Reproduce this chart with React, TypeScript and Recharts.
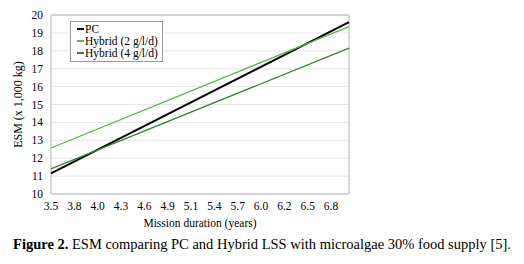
import { LineChart, Line, XAxis, YAxis, CartesianGrid, Legend, ReferenceArea } from 'recharts';

// mission duration in days (3.5 to 7.0 years)
const durationDays = [1278, 2555];
const pcMass = [11.15, 19.6];
const hybrid2Mass = [12.57, 19.35];
const hybrid4Mass = [11.4, 18.15];

// one tick every 100 days, shown in years
const xTicks = [1278, 1378, 1478, 1578, 1678, 1778, 1878, 1978, 2078, 2178, 2278, 2378, 2478];
const yTicks = [10, 11, 12, 13, 14, 15, 16, 17, 18, 19, 20];

const SERIES = [
  { key: 'pc', name: 'PC', color: '#000000', width: 2 },
  { key: 'hybrid2', name: 'Hybrid (2 g/l/d)', color: '#5bb450', width: 1.3 },
  { key: 'hybrid4', name: 'Hybrid (4 g/l/d)', color: '#3c7f36', width: 1.3 },
];

const data = durationDays.map((d, i) => ({
  days: d,
  pc: pcMass[i],
  hybrid2: hybrid2Mass[i],
  hybrid4: hybrid4Mass[i],
}));

const FONT = 'Liberation Serif, Times New Roman, Times, serif';

function LegendBox() {
  return (
    <div style={{ border: '1px solid #9a9a9a', background: '#fff', padding: '1px 4px 2px 6px', fontFamily: FONT, fontSize: 11.5, lineHeight: '12px', color: '#000' }}>
      {SERIES.map((s) => (
        <div key={s.key} style={{ display: 'flex', alignItems: 'center', whiteSpace: 'nowrap' }}>
          <span style={{ display: 'inline-block', width: 7, height: s.key === 'pc' ? 2 : 1.3, background: s.color, marginRight: 1 }} />
          {s.name}
        </div>
      ))}
    </div>
  );
}

export default function App() {
  return (
    <div style={{ margin: -8, width: 524, height: 264, background: '#fff', fontFamily: FONT }}>
      <LineChart width={524} height={232} data={data} margin={{ top: 15, right: 175, left: 0, bottom: 0 }}>
        <CartesianGrid vertical={false} stroke="#e6e6e6" />
        <XAxis
          dataKey="days"
          type="number"
          domain={[1278, 2555]}
          ticks={xTicks}
          interval={0}
          tickFormatter={(d: number) => (d / 365).toFixed(1)}
          axisLine={false}
          tickLine={false}
          tickMargin={2}
          height={38}
          tick={{ fill: '#000', fontSize: 11.5, fontFamily: FONT }}
          label={{ value: 'Mission duration (years)', position: 'insideBottom', offset: 5, fill: '#000', fontSize: 11.5, fontFamily: FONT }}
        />
        <YAxis
          type="number"
          domain={[10, 20]}
          ticks={yTicks}
          interval={0}
          axisLine={false}
          tickLine={false}
          width={51}
          tick={{ fill: '#000', fontSize: 11.5, fontFamily: FONT }}
          label={{ value: 'ESM (x 1,000 kg)', angle: -90, position: 'insideLeft', offset: 18, fill: '#000', fontSize: 12, fontFamily: FONT, style: { textAnchor: 'middle' } }}
        />
        <ReferenceArea x1={1278} x2={2555} y1={10} y2={20} fill="none" stroke="#b5b5b5" strokeWidth={1} />
        {/* centered/middle so the legend takes no room from the plot */}
        <Legend
          verticalAlign="middle"
          align="center"
          layout="vertical"
          content={<LegendBox />}
          wrapperStyle={{ position: 'absolute', left: 70, top: 21, width: 'auto' }}
        />
        {SERIES.map((s) => (
          <Line
            key={s.key}
            dataKey={s.key}
            name={s.name}
            stroke={s.color}
            strokeWidth={s.width}
            dot={false}
            isAnimationActive={false}
          />
        ))}
      </LineChart>
      <div style={{ textAlign: 'center', fontSize: 14.5, color: '#000', marginTop: 4 }}>
        <b>Figure 2.</b> ESM comparing PC and Hybrid LSS with microalgae 30% food supply [5].
      </div>
    </div>
  );
}
